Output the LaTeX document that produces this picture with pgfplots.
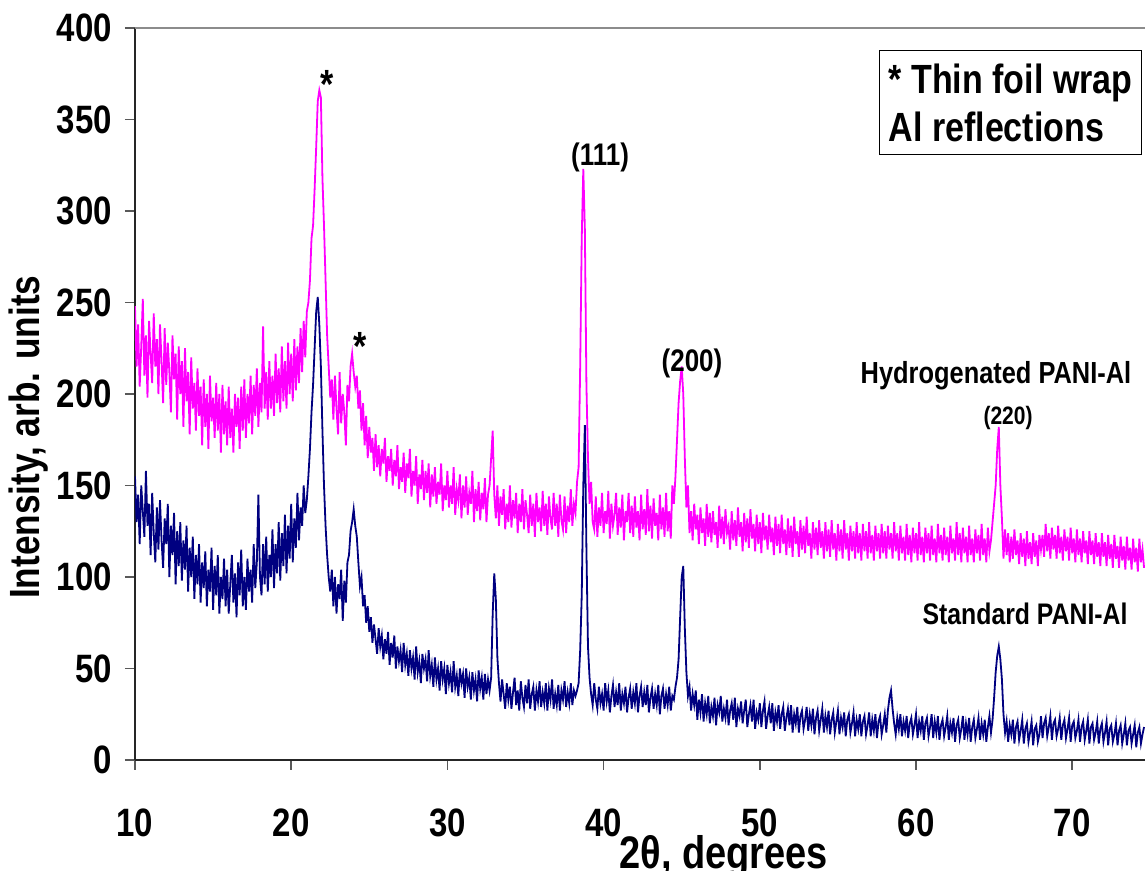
\documentclass[border=0pt]{standalone}
\usepackage{pgfplots}
\pgfplotsset{compat=1.18}
\usepackage{pgfplotstable}
\usepackage{graphicx}
\usepackage{fontspec}
\setmainfont{Liberation Sans}
\definecolor{hyd}{RGB}{255,0,255}
\definecolor{std}{RGB}{0,0,128}

\pgfplotstableread{
x s h
10.0 155 248
10.1 130 215
10.2 145 238
10.3 118 204
10.4 150 226
10.5 136 252
10.6 122 210
10.7 158 232
10.8 128 198
10.9 140 240
11.0 112 222
11.1 146 206
11.2 124 244
11.3 108 215
11.4 138 230
11.5 115 200
11.6 142 238
11.7 120 218
11.8 105 195
11.9 132 236
12.0 118 205
12.1 140 228
12.2 100 212
12.3 128 190
12.4 112 232
12.5 135 208
12.6 96 222
12.7 125 186
12.8 106 226
12.9 130 200
13.0 98 218
13.1 120 182
13.2 104 225
13.3 128 196
13.4 92 212
13.5 116 178
13.6 100 220
13.7 122 192
13.8 88 206
13.9 112 180
14.0 96 214
14.1 118 188
14.2 86 204
14.3 108 172
14.4 94 208
14.5 114 182
14.6 84 200
14.7 104 170
14.8 92 210
14.9 116 185
15.0 82 198
15.1 106 176
15.2 90 206
15.3 112 180
15.4 80 200
15.5 100 168
15.6 88 205
15.7 110 178
15.8 84 196
15.9 104 172
16.0 80 204
16.1 96 176
16.2 112 192
16.3 86 168
16.4 102 200
16.5 78 182
16.6 108 198
16.7 90 170
16.8 115 204
16.9 84 180
17.0 100 208
17.1 82 176
17.2 110 200
17.3 92 184
17.4 104 210
17.5 86 178
17.6 118 205
17.7 94 188
17.8 108 214
17.9 145 182
18.0 100 206
18.1 90 190
18.2 118 237
18.3 96 192
18.4 122 212
18.5 92 186
18.6 112 218
18.7 100 192
18.8 126 210
18.9 94 188
19.0 118 222
19.1 102 195
19.2 130 214
19.3 98 190
19.4 124 226
19.5 106 196
19.6 134 218
19.7 102 192
19.8 128 228
19.9 110 200
20.0 140 222
20.1 108 196
20.2 132 230
20.3 116 202
20.4 146 226
20.5 120 206
20.6 138 236
20.7 128 212
20.8 150 240
20.9 135 220
21.0 142 245
21.1 155 250
21.2 170 262
21.3 190 285
21.4 205 292
21.5 225 312
21.6 245 335
21.7 253 360
21.8 238 366
21.9 215 362
22.0 180 318
22.1 150 292
22.2 128 262
22.3 112 232
22.4 100 215
22.5 92 198
22.6 104 208
22.7 84 186
22.8 100 210
22.9 80 192
23.0 96 178
23.1 88 212
23.2 104 184
23.3 76 200
23.4 98 190
23.5 86 172
23.6 108 205
23.7 112 196
23.8 125 215
23.9 130 222
24.0 137 212
24.1 128 204
24.2 122 210
24.3 108 192
24.4 95 202
24.5 100 180
24.6 84 195
24.7 90 172
24.8 75 188
24.9 84 165
25.0 70 182
25.1 78 168
25.2 64 176
25.3 74 158
25.4 66 178
25.5 58 160
25.6 72 172
25.7 62 155
25.8 68 170
25.9 55 162
26.0 66 176
26.1 58 152
26.2 70 166
26.3 52 158
26.4 64 170
26.5 56 150
26.6 68 164
26.7 50 155
26.8 62 172
26.9 54 148
27.0 60 160
27.1 48 152
27.2 64 168
27.3 52 146
27.4 58 162
27.5 46 154
27.6 60 170
27.7 50 144
27.8 56 158
27.9 44 150
28.0 62 166
28.1 48 140
28.2 54 156
28.3 42 148
28.4 58 164
28.5 50 142
28.6 55 158
28.7 43 146
28.8 60 162
28.9 46 138
29.0 52 156
29.1 40 144
29.2 56 160
29.3 44 140
29.4 50 152
29.5 38 145
29.6 54 162
29.7 44 136
29.8 50 150
29.9 36 142
30.0 52 158
30.1 42 138
30.2 48 150
30.3 37 140
30.4 54 160
30.5 40 134
30.6 46 148
30.7 35 142
30.8 50 156
30.9 42 132
31.0 47 150
31.1 34 138
31.2 50 155
31.3 40 134
31.4 45 146
31.5 33 140
31.6 48 158
31.7 38 130
31.8 44 148
31.9 32 136
32.0 49 152
32.1 39 131
32.2 45 146
32.3 33 137
32.4 47 154
32.5 36 130
32.6 44 145
32.7 38 150
32.8 45 165
32.9 80 180
33.0 102 145
33.1 88 132
33.2 56 150
33.3 42 128
33.4 32 144
33.5 44 134
33.6 36 148
33.7 28 126
33.8 42 140
33.9 33 130
34.0 40 150
34.1 28 127
34.2 37 142
34.3 45 132
34.4 30 146
34.5 38 124
34.6 27 140
34.7 43 130
34.8 34 148
34.9 29 126
35.0 41 142
35.1 31 134
35.2 44 124
35.3 28 145
35.4 36 128
35.5 40 140
35.6 27 122
35.7 38 146
35.8 32 130
35.9 43 138
36.0 29 125
36.1 37 147
36.2 31 128
36.3 42 140
36.4 27 123
36.5 39 144
36.6 33 132
36.7 44 126
36.8 28 146
36.9 36 128
37.0 30 140
37.1 41 122
37.2 27 145
37.3 38 131
37.4 33 126
37.5 43 144
37.6 29 124
37.7 37 139
37.8 31 130
37.9 42 148
38.0 30 128
38.1 38 140
38.2 35 135
38.3 38 152
38.4 42 160
38.5 60 215
38.6 90 285
38.7 150 323
38.8 183 290
38.9 115 205
39.0 62 165
39.1 45 140
39.2 36 152
39.3 30 130
39.4 42 126
39.5 33 144
39.6 28 122
39.7 40 138
39.8 31 128
39.9 36 146
40.0 27 124
40.1 42 136
40.2 32 129
40.3 38 147
40.4 26 121
40.5 35 140
40.6 41 128
40.7 29 134
40.8 37 146
40.9 30 123
41.0 42 138
41.1 27 127
41.2 36 145
41.3 31 120
41.4 40 136
41.5 26 130
41.6 34 146
41.7 39 124
41.8 28 139
41.9 37 122
42.0 31 144
42.1 42 127
42.2 26 136
42.3 35 120
42.4 40 145
42.5 29 126
42.6 37 137
42.7 30 123
42.8 41 148
42.9 26 125
43.0 34 139
43.1 39 121
43.2 28 143
43.3 36 128
43.4 30 135
43.5 41 120
43.6 25 145
43.7 35 126
43.8 39 138
43.9 28 122
44.0 36 146
44.1 30 125
44.2 40 136
44.3 27 121
44.4 35 150
44.5 33 140
44.6 40 155
44.7 45 175
44.8 55 195
44.9 78 207
45.0 100 215
45.1 106 200
45.2 72 165
45.3 48 138
45.4 35 150
45.5 40 124
45.6 27 136
45.7 36 120
45.8 30 140
45.9 38 126
46.0 22 134
46.1 33 118
46.2 26 138
46.3 36 124
46.4 21 132
46.5 31 117
46.6 25 140
46.7 35 122
46.8 20 135
46.9 29 119
47.0 24 136
47.1 34 123
47.2 19 130
47.3 30 116
47.4 26 139
47.5 35 121
47.6 21 133
47.7 28 118
47.8 23 137
47.9 33 124
48.0 19 128
48.1 27 115
48.2 31 136
48.3 22 120
48.4 34 131
48.5 18 117
48.6 28 138
48.7 24 122
48.8 32 130
48.9 20 114
49.0 27 135
49.1 33 119
49.2 18 132
49.3 25 116
49.4 30 137
49.5 21 121
49.6 33 129
49.7 17 114
49.8 26 134
49.9 22 118
50.0 31 130
50.1 18 113
50.2 27 135
50.3 32 120
50.4 17 128
50.5 24 115
50.6 29 134
50.7 20 119
50.8 31 127
50.9 16 112
51.0 26 133
51.1 21 117
51.2 30 129
51.3 17 113
51.4 25 134
51.5 29 118
51.6 16 126
51.7 23 112
51.8 28 132
51.9 19 116
52.0 30 128
52.1 15 111
52.2 25 133
52.3 20 118
52.4 29 125
52.5 15 111
52.6 24 131
52.7 27 115
52.8 17 128
52.9 22 113
53.0 29 133
53.1 16 117
53.2 25 124
53.3 19 110
53.4 28 130
53.5 14 115
53.6 23 127
53.7 27 112
53.8 16 131
53.9 22 116
54.0 28 125
54.1 15 110
54.2 24 130
54.3 18 114
54.4 27 126
54.5 14 111
54.6 22 131
54.7 26 115
54.8 15 124
54.9 21 109
55.0 27 129
55.1 14 114
55.2 23 126
55.3 18 110
55.4 26 131
55.5 13 115
55.6 22 124
55.7 25 109
55.8 15 128
55.9 20 114
56.0 26 125
56.1 13 110
56.2 22 130
56.3 17 113
56.4 25 124
56.5 13 109
56.6 21 129
56.7 24 114
56.8 14 125
56.9 19 110
57.0 26 130
57.1 13 113
57.2 22 123
57.3 16 109
57.4 25 128
57.5 12 114
57.6 21 124
57.7 24 110
57.8 14 129
57.9 19 113
58.0 25 125
58.1 15 110
58.2 27 128
58.3 34 115
58.4 38 124
58.5 28 110
58.6 20 130
58.7 14 114
58.8 23 124
58.9 17 109
59.0 25 128
59.1 13 113
59.2 21 122
59.3 16 109
59.4 24 129
59.5 12 112
59.6 20 123
59.7 23 108
59.8 14 127
59.9 19 113
60.0 25 124
60.1 12 109
60.2 21 130
60.3 16 112
60.4 24 122
60.5 11 108
60.6 20 127
60.7 23 113
60.8 13 124
60.9 18 109
61.0 25 128
61.1 12 112
61.2 21 121
61.3 15 108
61.4 24 129
61.5 11 113
61.6 19 123
61.7 22 109
61.8 13 127
61.9 18 112
62.0 24 122
62.1 11 108
62.2 20 128
62.3 15 113
62.4 23 121
62.5 10 109
62.6 19 130
62.7 22 112
62.8 12 124
62.9 17 108
63.0 24 127
63.1 11 113
63.2 20 122
63.3 14 108
63.4 23 128
63.5 10 112
63.6 18 121
63.7 22 108
63.8 12 126
63.9 17 113
64.0 23 123
64.1 11 109
64.2 20 129
64.3 14 112
64.4 22 121
64.5 10 108
64.6 18 127
64.7 24 114
64.8 15 120
64.9 22 130
65.0 34 140
65.1 48 150
65.2 57 170
65.3 62 182
65.4 55 150
65.5 44 132
65.6 25 110
65.7 15 126
65.8 21 112
65.9 10 124
66.0 19 108
66.1 14 122
66.2 22 110
66.3 9 126
66.4 18 112
66.5 21 120
66.6 11 107
66.7 16 124
66.8 22 111
66.9 9 121
67.0 17 106
67.1 20 125
67.2 10 110
67.3 15 119
67.4 21 107
67.5 8 124
67.6 17 111
67.7 19 120
67.8 10 106
67.9 14 123
68.0 24 115
68.1 12 123
68.2 20 111
68.3 23 129
68.4 13 114
68.5 18 124
68.6 24 110
68.7 11 127
68.8 20 115
68.9 22 123
69.0 13 110
69.1 17 128
69.2 23 113
69.3 11 122
69.4 19 109
69.5 22 126
69.6 12 114
69.7 17 122
69.8 23 109
69.9 10 127
70.0 19 113
70.1 21 121
70.2 12 108
70.3 16 126
70.4 22 112
70.5 10 121
70.6 18 108
70.7 21 125
70.8 11 113
70.9 16 120
71.0 22 107
71.1 9 125
71.2 18 112
71.3 20 120
71.4 11 107
71.5 15 124
71.6 21 111
71.7 9 119
71.8 17 106
71.9 20 124
72.0 10 111
72.1 15 119
72.2 21 106
72.3 8 123
72.4 17 110
72.5 19 118
72.6 10 105
72.7 14 123
72.8 20 110
72.9 8 117
73.0 16 105
73.1 19 122
73.2 9 109
73.3 14 117
73.4 20 104
73.5 8 122
73.6 16 109
73.7 18 116
73.8 9 104
73.9 14 121
74.0 19 108
74.1 7 116
74.2 15 103
74.3 18 121
74.4 9 108
74.5 14 115
74.6 18 105
}\xrd

\newcommand{\vs}[1]{\scalebox{1}[1.2]{#1}}

\begin{document}
\begin{tikzpicture}[font=\bfseries]
\begin{axis}[
  scale only axis, width=505pt, height=366pt,
  xmin=10, xmax=74.66, ymin=0, ymax=400,
  clip mode=individual,
  axis x line*=bottom, axis y line*=left,
  axis line style={black!85, line width=0.8pt},
  tick align=outside, major tick length=5pt,
  tick style={black!65, line width=0.8pt},
  xtick={10,20,30,40,50,60,70},
  ytick={0,50,100,150,200,250,300,350,400},
  /pgf/number format/assume math mode=true,
  ticklabel style={font=\fontsize{16.5}{18}\selectfont\bfseries},
  xticklabel={\vs{\pgfmathprintnumber{\tick}}},
  yticklabel={\vs{\pgfmathprintnumber{\tick}}},
  xticklabel style={yshift=-16pt},
  yticklabel style={xshift=-3pt},
]
\addplot[hyd, line width=0.9pt, mark=none] table[x=x, y=h] {\xrd};
\addplot[std, line width=0.9pt, mark=none] table[x=x, y=s] {\xrd};
\draw[black!45, line width=0.8pt] (rel axis cs:0,1) -- (rel axis cs:1,1);

\node[font=\fontsize{17}{20}\selectfont\bfseries] at (axis cs:22.29,368.9) {\vs{*}};
\node[font=\fontsize{17}{20}\selectfont\bfseries] at (axis cs:24.4,225.7) {\vs{*}};
\node[font=\fontsize{13}{15}\selectfont\bfseries] at (axis cs:39.77,329) {\vs{(111)}};
\node[font=\fontsize{13}{15}\selectfont\bfseries] at (axis cs:45.66,216.9) {\vs{(200)}};
\node[font=\fontsize{10.5}{12}\selectfont\bfseries] at (axis cs:65.89,186.9) {\vs{(220)}};
\node[font=\fontsize{12.7}{15}\selectfont\bfseries] at (axis cs:65.12,210) {\vs{Hydrogenated PANI-Al}};
\node[font=\fontsize{12.4}{15}\selectfont\bfseries] at (axis cs:66.98,79.8) {\vs{Standard PANI-Al}};

\node[draw=black, line width=0.75pt, fill=white, anchor=north west, inner xsep=4.5pt, inner ysep=6.5pt, align=left,
      font=\fontsize{17}{24}\selectfont\bfseries] at (axis cs:57.63,388) {\vs{* Thin foil wrap}\\ \vs{Al reflections}};

\node[rotate=90, font=\fontsize{17.6}{20}\selectfont\bfseries] at ([xshift=-53pt]rel axis cs:0,0.441) {\vs{Intensity, arb. units}};
\node[anchor=base, font=\fontsize{19}{22}\selectfont\bfseries] at ([yshift=-54.5pt]axis cs:47.7,0) {\vs{2θ, degrees}};

\coordinate (SW) at (rel axis cs:0,0);
\coordinate (NE) at (rel axis cs:1,1);
\end{axis}
\pgfresetboundingbox
\useasboundingbox ([shift={(-67.5pt,-55.5pt)}]SW) rectangle ([shift={(0pt,14pt)}]NE);
\end{tikzpicture}
\end{document}
